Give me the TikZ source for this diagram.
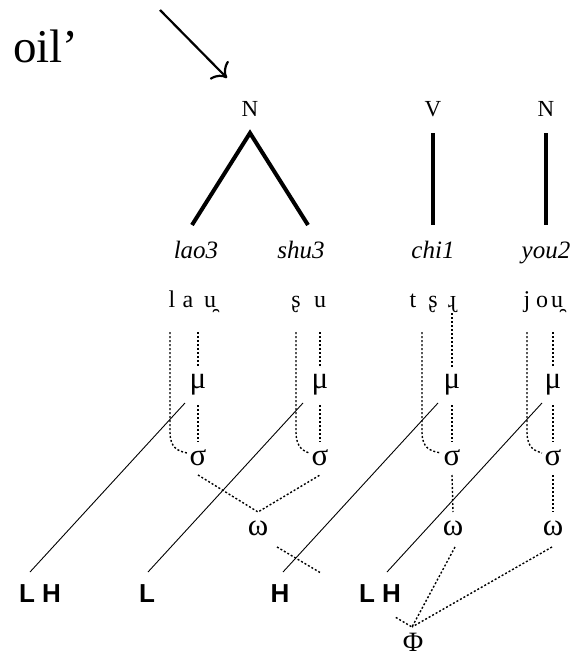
\documentclass[tikz,border=0pt]{standalone}
\usepackage{fontspec}
\setmainfont{Liberation Serif}
\newfontfamily\tonefont{Liberation Sans}
\usetikzlibrary{arrows.meta,calc}
\begin{document}
\begin{tikzpicture}[x=1pt,y=-1pt,
  every node/.style={inner sep=0pt,outer sep=0pt},
  cat/.style={font=\fontsize{23}{25}\selectfont},
  word/.style={font=\fontsize{25}{28}\selectfont\itshape,anchor=base},
  seg/.style={font=\fontsize{24}{26}\selectfont,anchor=base},
  greek/.style={font=\fontsize{31}{33}\selectfont},
  tone/.style={font=\tonefont\bfseries\fontsize{26}{28}\selectfont,anchor=base},
  branch/.style={line width=4pt},
  assoc/.style={line width=1.4pt,dash pattern=on 2pt off 2pt},
  tline/.style={line width=0.9pt},
]
\useasboundingbox (0,0) rectangle (575,658);

% gloss and arrow
\node[font=\fontsize{47}{50}\selectfont,anchor=base west] (gloss) at (13,63) {oil’};
\coordinate (ar0) at (160,10);
\coordinate (ar1) at (227,78);
\draw[line width=2.2pt,-{Computer Modern Rightarrow[length=12pt,width=26pt]}] (ar0) -- (ar1);

% syntactic tree
\node[cat] (N1) at (250,109) {N};
\node[cat] (V1) at (433,109) {V};
\node[cat] (N2) at (546,109) {N};
\coordinate (N1b) at (250,133);
\coordinate (laot) at (192,225);
\coordinate (shut) at (308,225);
\coordinate (V1b) at (433,133);
\coordinate (chit) at (433,225);
\coordinate (N2b) at (546,133);
\coordinate (yout) at (546,225);
\draw[branch] (laot) -- (N1b) -- (shut);
\draw[branch] (V1b) -- (chit);
\draw[branch] (N2b) -- (yout);

\node[word] (lao) at (196,258) {lao3};
\node[word] (shu) at (301,258) {shu3};
\node[word] (chi) at (433,258) {chi1};
\node[word] (you) at (546,258) {you2};

% segments
\node[seg] (s1) at (172,307) {l};
\node[seg] (s2) at (188,307) {a};
\node[seg] (s3) at (210,307) {u̯};
\node[seg] (s4) at (296,307) {ʂ};
\node[seg] (s5) at (320,307) {u};
\node[seg] (s6) at (413,307) {t};
\node[seg] (s7) at (433,307) {ʂ};
\node[seg] (s8) at (452,307) {ɻ};
\node[seg] (s9) at (527,307) {j};
\node[seg] (s10) at (542,307) {o};
\node[seg] (s11) at (557,307) {u̯};

% moras and syllables
\foreach \m/\c/\vs/\i in {198/170/332/1, 320/296/332/2, 452/422/313/3, 553/527/332/4} {
  \node[greek] (mu\i) at (\m,385) {μ};
  \node[greek] (sg\i) at (\m,458) {σ};
  \coordinate (vt\i) at (\m,\vs);
  \coordinate (vb\i) at (\m,367);
  \coordinate (mb\i) at (\m,405);
  \coordinate (st\i) at (\m,442);
  \coordinate (ct\i) at (\c,332);
  \coordinate (cb\i) at (\c,432);
  \coordinate (ce\i) at (\m-11,453);
  \coordinate (sb\i) at (\m,475);
  \draw[assoc] (vt\i) -- (vb\i);
  \draw[assoc] (mb\i) -- (st\i);
  \draw[assoc] (ct\i) -- (cb\i) .. controls (\c,448) and (\c+8,451) .. (ce\i);
}

% prosodic words
\node[greek] (w1) at (258,528) {ω};
\node[greek] (w2) at (453,528) {ω};
\node[greek] (w3) at (553,528) {ω};
\coordinate (w1t) at (258,512);
\coordinate (w2t) at (453,512);
\coordinate (w3t) at (553,512);
\draw[assoc] (sb1) -- (w1t) -- (sb2);
\draw[assoc] (sb3) -- (w2t);
\draw[assoc] (sb4) -- (w3t);

% phonological phrase
\node[font=\fontsize{28}{30}\selectfont] (phi) at (413,642) {Φ};
\coordinate (pt) at (412,627);
\coordinate (w1b) at (277,547);
\coordinate (w2b) at (455,547);
\coordinate (w3b) at (552,547);
\draw[assoc] (w1b) -- ($(w1b)!0.318!(pt)$);
\draw[assoc] ($(w1b)!0.88!(pt)$) -- (pt);
\draw[assoc] (w2b) -- (pt);
\draw[assoc] (w3b) -- (pt);

% tones
\node[tone] (t1) at (40,602) {L H};
\node[tone] (t2) at (147,602) {L};
\node[tone] (t3) at (280,602) {H};
\node[tone] (t4) at (380,602) {L H};
\coordinate (a1) at (185,403); \coordinate (b1) at (30,572);
\coordinate (a2) at (303,403); \coordinate (b2) at (148,572);
\coordinate (a3) at (438,403); \coordinate (b3) at (283,572);
\coordinate (a4) at (542,403); \coordinate (b4) at (387,572);
\draw[tline] (a1) -- (b1);
\draw[tline] (a2) -- (b2);
\draw[tline] (a3) -- (b3);
\draw[tline] (a4) -- (b4);
\end{tikzpicture}
\end{document}
